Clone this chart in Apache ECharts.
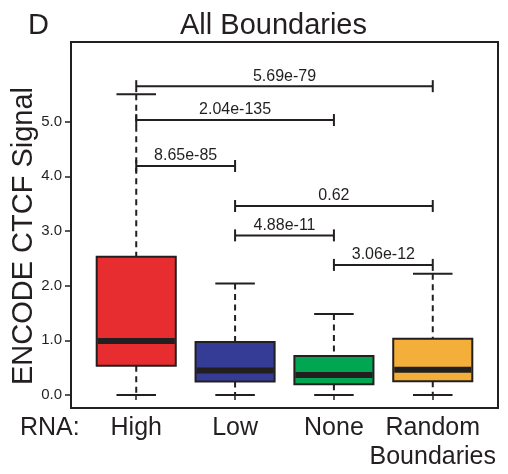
<!DOCTYPE html>
<html>
<head>
<meta charset="utf-8">
<script src="https://cdn.jsdelivr.net/npm/echarts@6/dist/echarts.min.js"></script>
<style>
  html, body { margin: 0; padding: 0; background: #fff; }
  #chart { width: 508px; height: 474px; }
</style>
</head>
<body>
<div id="chart"></div>
<script>
// Boxplot summary per RNA class (ENCODE CTCF signal)
const categories = ['High', 'Low', 'None', 'Random\nBoundaries'];
const whiskerLow = [0, 0, 0, 0];
const lowerQuartile = [0.536, 0.245, 0.195, 0.25];
const medians = [0.99, 0.45, 0.366, 0.46];
const upperQuartile = [2.53, 0.97, 0.713, 1.03];
const whiskerHigh = [5.50, 2.04, 1.48, 2.22];

// Pairwise comparisons: group positions (1-based), bracket height, p-value
const pairFrom = [1, 1, 1, 2, 2, 3];
const pairTo = [4, 3, 2, 4, 3, 4];
const pairHeight = [5.65, 5.03, 4.19, 3.457, 2.92, 2.38];
const pairPValues = ['5.69e-79', '2.04e-135', '8.65e-85', '0.62', '4.88e-11', '3.06e-12'];

const yTicks = [0, 1, 2, 3, 4, 5];

const boxColors = ['#e82d30', '#343c96', '#00a651', '#f4ae3a'];
const ink = '#231f20';
const font = '"Liberation Sans", Arial, sans-serif';

const boxData = categories.map((c, i) => [
  i + 1, whiskerLow[i], lowerQuartile[i], medians[i], upperQuartile[i], whiskerHigh[i]
]);
const pairData = pairFrom.map((f, i) => [f, pairTo[i], pairHeight[i], i]);

const chart = echarts.init(document.getElementById('chart'), null, { renderer: 'canvas' });

function renderBox(params, api) {
  const x = api.value(0);
  const lo = api.value(1), q1 = api.value(2), med = api.value(3), q3 = api.value(4), hi = api.value(5);
  const tl = api.coord([x - 0.4, q3]);
  const br = api.coord([x + 0.4, q1]);
  const c = (v) => api.coord([x, v]);
  const dashed = { stroke: ink, lineWidth: 2, lineDash: [6, 4.5] };
  const solid = { stroke: ink, lineWidth: 2 };
  const capL = (v) => api.coord([x - 0.2, v]);
  const capR = (v) => api.coord([x + 0.2, v]);
  const mL = api.coord([x - 0.4, med]);
  const mR = api.coord([x + 0.4, med]);
  return {
    type: 'group',
    children: [
      { type: 'line', shape: { x1: c(hi)[0], y1: c(hi)[1], x2: c(q3)[0], y2: c(q3)[1] }, style: dashed },
      { type: 'line', shape: { x1: c(q1)[0], y1: c(q1)[1], x2: c(lo)[0], y2: c(lo)[1] }, style: dashed },
      { type: 'line', shape: { x1: capL(hi)[0], y1: capL(hi)[1], x2: capR(hi)[0], y2: capR(hi)[1] }, style: solid },
      { type: 'line', shape: { x1: capL(lo)[0], y1: capL(lo)[1], x2: capR(lo)[0], y2: capR(lo)[1] }, style: solid },
      { type: 'rect', shape: { x: tl[0], y: tl[1], width: br[0] - tl[0], height: br[1] - tl[1] },
        style: { fill: boxColors[params.dataIndex], stroke: ink, lineWidth: 2 } },
      { type: 'line', shape: { x1: mL[0] + 1, y1: mL[1], x2: mR[0] - 1, y2: mR[1] },
        style: { stroke: ink, lineWidth: 6 } }
    ]
  };
}

function renderPair(params, api) {
  const p1 = api.coord([api.value(0), api.value(2)]);
  const p2 = api.coord([api.value(1), api.value(2)]);
  const st = { stroke: ink, lineWidth: 2 };
  return {
    type: 'group',
    children: [
      { type: 'line', shape: { x1: p1[0], y1: p1[1], x2: p2[0], y2: p2[1] }, style: st },
      { type: 'line', shape: { x1: p1[0], y1: p1[1] - 6, x2: p1[0], y2: p1[1] + 6 }, style: st },
      { type: 'line', shape: { x1: p2[0], y1: p2[1] - 6, x2: p2[0], y2: p2[1] + 6 }, style: st },
      { type: 'text', x: (p1[0] + p2[0]) / 2, y: p1[1] - 2,
        style: { text: pairPValues[api.value(3)], fill: ink, font: '16px ' + font,
                 align: 'center', verticalAlign: 'bottom' } }
    ]
  };
}

chart.setOption({
  animation: false,
  backgroundColor: '#fff',
  grid: { left: 71, top: 42, right: 10, bottom: 66, show: true, borderColor: ink, borderWidth: 2, backgroundColor: 'transparent' },
  xAxis: {
    type: 'value', min: 0.34, max: 4.66,
    splitLine: { show: false },
    axisLine: { show: false },
    axisTick: { show: true, customValues: [1, 2, 3, 4], length: 5, lineStyle: { color: ink, width: 1.5 } },
    axisLabel: {
      show: true, customValues: [1, 2, 3, 4], margin: 6,
      formatter: (v) => categories[Math.round(v) - 1] || '',
      fontFamily: font, fontSize: 25, lineHeight: 29, color: ink
    }
  },
  yAxis: {
    type: 'value', min: -0.238, max: 6.458,
    splitLine: { show: false },
    axisLine: { show: false },
    axisTick: { show: true, customValues: yTicks, length: 6, lineStyle: { color: ink, width: 1.5 } },
    axisLabel: {
      show: true, customValues: yTicks, margin: 9,
      formatter: (v) => v.toFixed(1),
      fontFamily: font, fontSize: 15, color: ink
    }
  },
  graphic: [
    { type: 'text', x: 28, y: 25.5, style: { text: 'D', font: '29px ' + font, fill: ink, align: 'left', verticalAlign: 'middle' } },
    { type: 'text', x: 273.5, y: 25.5, style: { text: 'All Boundaries', font: '29px ' + font, fill: ink, align: 'center', verticalAlign: 'middle' } },
    { type: 'text', x: 20, y: 428.5, style: { text: 'RNA:', font: '25px ' + font, fill: ink, align: 'left', verticalAlign: 'middle' } },
    { type: 'text', x: 23.5, y: 236, rotation: Math.PI / 2,
      style: { text: 'ENCODE CTCF Signal', font: '29px ' + font, fill: ink, align: 'center', verticalAlign: 'middle' } }
  ],
  series: [
    { type: 'custom', renderItem: renderBox, data: boxData, encode: { x: 0, y: [1, 2, 3, 4, 5] }, z: 2 },
    { type: 'custom', renderItem: renderPair, data: pairData, encode: { x: [0, 1], y: 2 }, z: 3 }
  ]
});
</script>
</body>
</html>
